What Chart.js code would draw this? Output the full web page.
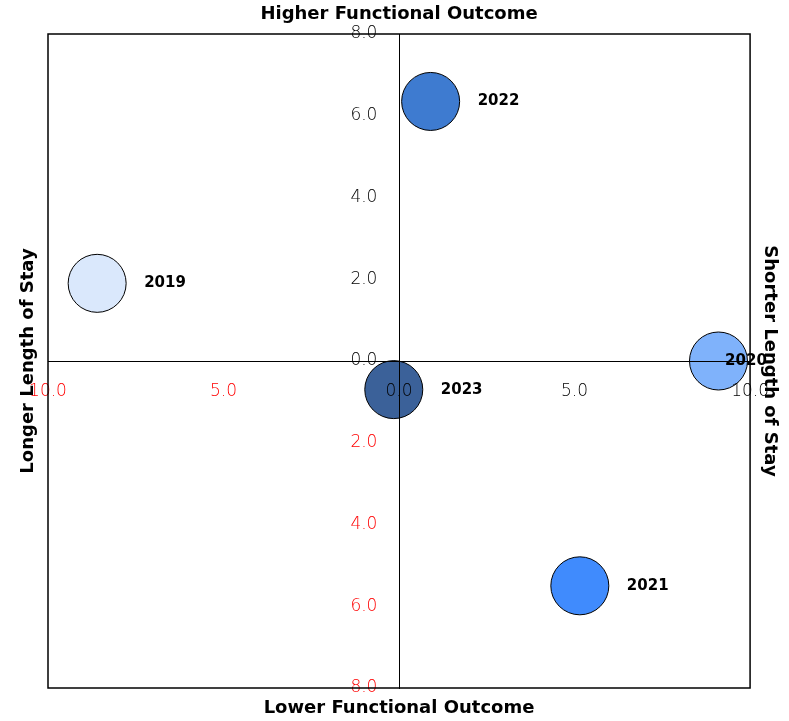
<!DOCTYPE html>
<html>
<head>
<meta charset="utf-8">
<script src="https://cdn.jsdelivr.net/npm/chart.js@4.4.0/dist/chart.umd.min.js"></script>
<style>
  html, body { margin: 0; padding: 0; background: #fff; }
  #wrap { width: 789px; height: 721px; }
</style>
</head>
<body>
<div id="wrap"><canvas id="quadChart"></canvas></div>
<script>
// quadrant data: x = length of stay score, y = functional outcome score
const years = ['2019', '2020', '2021', '2022', '2023'];
const losScores = [-8.6, 9.1, 5.15, 0.9, -0.15];
const outcomeScores = [1.9, 0.0, -5.5, 6.35, -0.7];
const bubbleSizes = [29, 29, 29, 29, 29];
const bubbleColors = ['#dae8fc', '#7fb2fb', '#408bfd', '#3e7bd0', '#3b6199'];
const xTicks = [-10, -5, 0, 5, 10];
const yTicks = [-8, -6, -4, -2, 0, 2, 4, 6, 8];

const titleFont = '"DejaVu Sans", "Noto Sans", sans-serif';
const tickFont = '"DejaVu Sans", "Noto Sans", sans-serif';

const quadrantPlugin = {
  id: 'quadrantFrame',
  afterDraw(chart) {
    const { ctx, chartArea: a } = chart;
    const cx = (a.left + a.right) / 2;
    const cy = (a.top + a.bottom) / 2;
    ctx.save();
    ctx.strokeStyle = '#000';
    ctx.lineWidth = 1.5;
    ctx.strokeRect(a.left, a.top, a.right - a.left, a.bottom - a.top);

    // year labels next to each bubble
    const meta = chart.getDatasetMeta(0);
    ctx.fillStyle = '#000';
    ctx.font = 'bold 15px ' + titleFont;
    ctx.textAlign = 'left';
    ctx.textBaseline = 'middle';
    meta.data.forEach((pt, i) => {
      const lx = Math.min(pt.x + 47, a.right - 25);
      ctx.fillText(years[i], lx, pt.y);
    });

    // quadrant titles
    ctx.font = 'bold 18px ' + titleFont;
    ctx.textAlign = 'center';
    ctx.fillText('Higher Functional Outcome', cx, a.top - 20);
    ctx.fillText('Lower Functional Outcome', cx, a.bottom + 20);
    ctx.save();
    ctx.translate(a.left - 20, cy);
    ctx.rotate(-Math.PI / 2);
    ctx.fillText('Longer Length of Stay', 0, 0);
    ctx.restore();
    ctx.save();
    ctx.translate(a.right + 20, cy);
    ctx.rotate(Math.PI / 2);
    ctx.fillText('Shorter Length of Stay', 0, 0);
    ctx.restore();
    ctx.restore();
  }
};

const tickColor = ctx => (ctx.tick && ctx.tick.value < 0 ? '#ff0000' : '#000');
const tickLabel = v => Math.abs(v).toFixed(1);

const ctxQuad = document.getElementById('quadChart').getContext('2d');
new Chart(ctxQuad, {
  type: 'bubble',
  data: {
    datasets: [{
      data: years.map((y, i) => ({ x: losScores[i], y: outcomeScores[i], r: bubbleSizes[i] })),
      backgroundColor: bubbleColors,
      borderColor: '#000',
      borderWidth: 1
    }]
  },
  options: {
    responsive: true,
    maintainAspectRatio: false,
    animation: false,
    layout: { padding: { left: 48, right: 38, top: 34, bottom: 33 } },
    plugins: { legend: { display: false }, tooltip: { enabled: false } },
    scales: {
      x: {
        type: 'linear',
        min: -10,
        max: 10,
        position: { y: 0 },
        afterBuildTicks: axis => { axis.ticks = xTicks.map(v => ({ value: v })); },
        grid: { display: false, drawTicks: false },
        border: { display: true, color: '#000', width: 1, z: 1 },
        ticks: {
          z: 1,
          padding: 20,
          maxRotation: 0,
          autoSkip: false,
          color: tickColor,
          callback: tickLabel,
          font: { family: tickFont, size: 17, weight: '200' }
        }
      },
      y: {
        type: 'linear',
        min: -8,
        max: 8,
        position: { x: 0 },
        afterBuildTicks: axis => { axis.ticks = yTicks.map(v => ({ value: v })); },
        grid: { display: false, drawTicks: false },
        border: { display: true, color: '#000', width: 1, z: 1 },
        ticks: {
          z: 1,
          autoSkip: false,
          color: tickColor,
          // centred axis ignores padding, so keep a gap with trailing spaces
          callback: v => tickLabel(v) + '    ',
          font: { family: tickFont, size: 17, weight: '200' }
        }
      }
    }
  },
  plugins: [quadrantPlugin]
});
</script>
</body>
</html>
